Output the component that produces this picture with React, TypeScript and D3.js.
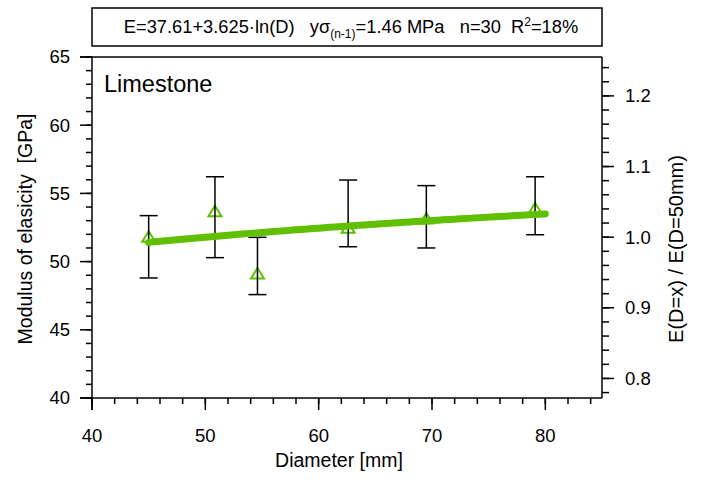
import React from "react";
import * as d3 from "d3";

const diameters = [45, 50.85, 54.6, 62.6, 69.5, 79.1];
const means = [51.78, 53.66, 49.09, 52.44, 53.12, 53.86];
const errLow = [48.8, 50.29, 47.58, 51.09, 51.0, 51.97];
const errHigh = [53.37, 56.22, 51.78, 55.98, 55.57, 56.22];

const fitA = 37.61;
const fitB = 3.625;
const fitRange = [45, 80];

const xMajor = [40, 50, 60, 70, 80];
const xMinor = d3.range(40, 85.01, 2);
const yMajor = [40, 45, 50, 55, 60, 65];
const yMinor = d3.range(40, 65.01, 1);
const rMajor = [0.8, 0.9, 1.0, 1.1, 1.2];
const rMinor = d3.range(0.78, 1.2401, 0.02);

const titleText = "E=37.61+3.625·ln(D)";
const seriesLabel = "Limestone";

const W = 701, H = 481;
const L = 92, R = 602, T = 57, B = 398;
const FONT = "'Liberation Sans', Arial, Helvetica, sans-serif";
const GREEN = "#60c000";

export default function App() {
  const x = d3.scaleLinear().domain([40, 85]).range([L, R]);
  const y = d3.scaleLinear().domain([40, 65]).range([B, T]);
  const E0 = fitA + fitB * Math.log(50);
  const yr = d3.scaleLinear().domain([40 / E0, 65 / E0]).range([B, T]);

  const fitPts = d3.range(fitRange[0], fitRange[1] + 0.001, 0.5).map((d) => [d, fitA + fitB * Math.log(d)] as [number, number]);
  const line = d3.line<[number, number]>().x((d) => x(d[0])).y((d) => y(d[1]));

  const tri = (cx: number, cy: number) => `M${cx},${cy - 6}L${cx + 6.5},${cy + 4.5}L${cx - 6.5},${cy + 4.5}Z`;

  return (
    <svg width={W} height={H} style={{ position: "absolute", left: 0, top: 0, background: "#fff" }} fontFamily={FONT}>
      {/* title box */}
      <rect x={L} y={8} width={R - L} height={38} fill="none" stroke="#000" strokeWidth={1.5} />
      <text x={351} y={33} fontSize={18.3} textAnchor="middle" style={{ whiteSpace: "pre" }}>
        {titleText + "   y"}σ
        <tspan fontSize={12} dy={5}>(n-1)</tspan>
        <tspan dy={-5}>{"=1.46 MPa   n=30  R"}</tspan>
        <tspan fontSize={12} dy={-7}>2</tspan>
        <tspan dy={7}>=18%</tspan>
      </text>

      {/* frame */}
      <line x1={L - 12} x2={R} y1={T} y2={T} stroke="#000" strokeWidth={1.5} />
      <line x1={L - 12} x2={R} y1={B} y2={B} stroke="#000" strokeWidth={1.5} />
      <line x1={L} x2={L} y1={T} y2={B + 12} stroke="#000" strokeWidth={1.5} />
      <line x1={R} x2={R} y1={T} y2={B} stroke="#000" strokeWidth={1.5} />

      {/* x ticks */}
      {xMinor.map((d) => (
        <line key={"xm" + d} x1={x(d)} x2={x(d)} y1={B} y2={B + 6} stroke="#000" strokeWidth={1.5} />
      ))}
      {xMajor.map((d) => (
        <g key={"xM" + d}>
          <line x1={x(d)} x2={x(d)} y1={B} y2={B + 12} stroke="#000" strokeWidth={1.5} />
          <text x={x(d)} y={442} fontSize={18.5} textAnchor="middle">{d}</text>
        </g>
      ))}
      <text x={339} y={467} fontSize={19.5} textAnchor="middle">Diameter [mm]</text>

      {/* left y ticks */}
      {yMinor.map((d) => (
        <line key={"ym" + d} x1={L - 6} x2={L} y1={y(d)} y2={y(d)} stroke="#000" strokeWidth={1.5} />
      ))}
      {yMajor.map((d) => (
        <g key={"yM" + d}>
          <line x1={L - 12} x2={L} y1={y(d)} y2={y(d)} stroke="#000" strokeWidth={1.5} />
          <text x={70} y={y(d)} dy="0.35em" fontSize={18.5} textAnchor="end">{d}</text>
        </g>
      ))}
      <text transform={`translate(25,${229}) rotate(-90)`} fontSize={19.5} textAnchor="middle" dy="0.35em" style={{ whiteSpace: "pre" }}>
        {"Modulus of elasicity  [GPa]"}
      </text>

      {/* right y ticks */}
      {rMinor.map((d) => (
        <line key={"rm" + d.toFixed(2)} x1={R} x2={R + 7} y1={yr(d)} y2={yr(d)} stroke="#000" strokeWidth={1.5} />
      ))}
      {rMajor.map((d) => (
        <g key={"rM" + d}>
          <line x1={R} x2={R + 12} y1={yr(d)} y2={yr(d)} stroke="#000" strokeWidth={1.5} />
          <text x={625} y={yr(d)} dy="0.35em" fontSize={18.5} textAnchor="start">{d.toFixed(1)}</text>
        </g>
      ))}
      <text transform={`translate(676,${249}) rotate(-90)`} fontSize={20} textAnchor="middle" dy="0.35em">
        E(D=x) / E(D=50mm)
      </text>

      <text x={104} y={92} fontSize={23.5}>{seriesLabel}</text>

      {/* markers */}
      {diameters.map((d, i) => (
        <path key={"t" + i} d={tri(x(d), y(means[i]))} fill="none" stroke={GREEN} strokeWidth={2} />
      ))}

      {/* error bars */}
      {diameters.map((d, i) => (
        <g key={"e" + i} stroke="#000" strokeWidth={1.5}>
          <line x1={x(d)} x2={x(d)} y1={y(errLow[i])} y2={y(errHigh[i])} />
          <line x1={x(d) - 9} x2={x(d) + 9} y1={y(errLow[i])} y2={y(errLow[i])} />
          <line x1={x(d) - 9} x2={x(d) + 9} y1={y(errHigh[i])} y2={y(errHigh[i])} />
        </g>
      ))}

      {/* fit line */}
      <path d={line(fitPts) || ""} fill="none" stroke={GREEN} strokeWidth={7} strokeLinecap="round" />
    </svg>
  );
}
